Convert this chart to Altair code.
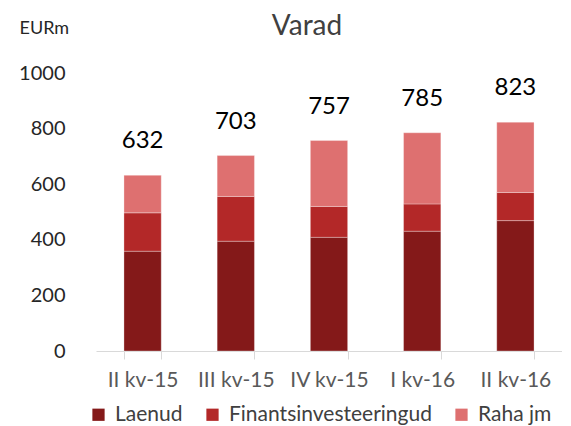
import altair as alt
import pandas as pd

quarters = ["II kv-15", "III kv-15", "IV kv-15", "I kv-16", "II kv-16"]
series = ["Laenud", "Finantsinvesteeringud", "Raha jm"]
laenud = [359, 395, 409, 431, 469]
finants = [138, 161, 111, 98, 101]
raha = [135, 147, 237, 256, 253]
totals = [632, 703, 757, 785, 823]
colors = ["#841919", "#B32828", "#DE7070"]

rows = []
for i, q in enumerate(quarters):
    for s, vals in zip(series, [laenud, finants, raha]):
        rows.append({"q": q, "s": s, "v": vals[i], "o": series.index(s)})
df = pd.DataFrame(rows)
tot = pd.DataFrame({"q": quarters, "t": totals})

FONT = "Lato"

x = alt.X("q:N", sort=quarters, title=None,
          scale=alt.Scale(paddingInner=0.6, paddingOuter=0.3),
          axis=alt.Axis(labelAngle=0, labelFontSize=21, labelColor="#595959",
                        labelFont=FONT, domainColor="#d9d9d9", tickColor="#d9d9d9",
                        tickBand="extent", tickSize=8, labelPadding=10, grid=False))

bars = alt.Chart(df).mark_bar(stroke="white", strokeWidth=0.6, strokeOpacity=0.5).encode(
    x=x,
    y=alt.Y("v:Q", stack="zero", scale=alt.Scale(domain=[0, 1000]),
            title="EURm",
            axis=alt.Axis(values=[0, 200, 400, 600, 800, 1000], format="d", grid=False,
                          domain=False, ticks=False, labelFontSize=20, labelColor="#262626",
                          labelFont=FONT, labelPadding=31,
                          titleAngle=0, titleX=-77, titleY=-45, titleAlign="left",
                          titleBaseline="middle", titleFontSize=18, titleFontWeight="normal",
                          titleFont=FONT, titleColor="#262626")),
    color=alt.Color("s:N", sort=series,
                    scale=alt.Scale(domain=series, range=colors),
                    legend=alt.Legend(orient="none", direction="horizontal", title=None,
                                      legendX=-8, legendY=331, symbolType="square",
                                      symbolSize=150, symbolStrokeWidth=0,
                                      labelFontSize=21, labelFont=FONT, labelColor="#404040",
                                      columnPadding=19, symbolOffset=0, labelOffset=6,
                                      labelLimit=300)),
    order=alt.Order("o:Q"),
)

labels = alt.Chart(tot).mark_text(baseline="bottom", dy=-22, fontSize=24, font=FONT,
                                  color="#000000").encode(
    x=alt.X("q:N", sort=quarters),
    y=alt.Y("t:Q"),
    text=alt.Text("t:Q"),
)

chart = alt.layer(bars, labels).properties(
    width=466, height=278,
    background="white",
    padding={"left": 10, "top": 5, "right": 0, "bottom": 5},
    title=alt.TitleParams("Varad", fontSize=28, font=FONT, fontWeight="normal",
                          color="#404040", dx=-22, offset=-22),
).configure_view(stroke="transparent", strokeWidth=0)

chart.save("out.html", embed_options={"renderer": "svg", "actions": False})
